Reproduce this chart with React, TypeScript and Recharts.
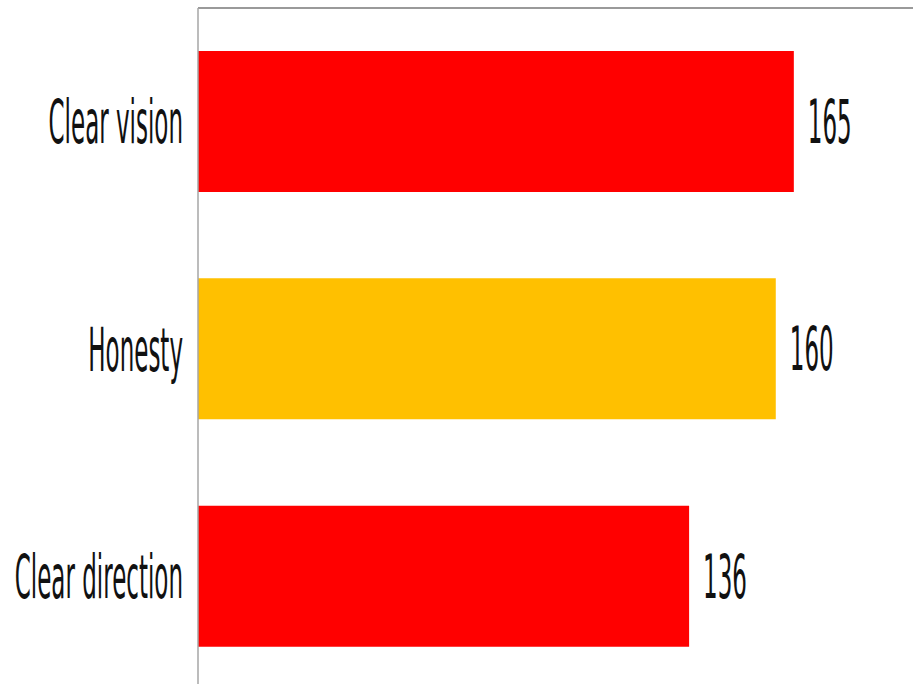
import { Bar, BarChart, Cell, LabelList, XAxis, YAxis } from "recharts";

const categories = ["Clear vision", "Honesty", "Clear direction"];
const values = [165, 160, 136];
const colors = ["#ff0000", "#ffc000", "#ff0000"];

const data = categories.map((name, i) => ({ name, value: values[i] }));

const FONT = "'DejaVu Sans', Verdana, sans-serif";
const STRETCH = 2.6;

const StretchedText = ({ x, y, text, anchor }: { x: number; y: number; text: string; anchor: "start" | "end" }) => (
  <g transform={`translate(${x},${y}) scale(1,${STRETCH})`}>
    <text
      x={0}
      y={0}
      dy="0.36em"
      textAnchor={anchor}
      fontFamily={FONT}
      fontSize={23}
      fill="#111"
    >
      {text}
    </text>
  </g>
);

const CategoryTick = (props: any) => {
  const { x, y, payload } = props;
  return <StretchedText x={x} y={y} text={payload.value} anchor="end" />;
};

const ValueLabel = (props: any) => {
  const { x, y, width, height, value } = props;
  return <StretchedText x={x + width + 14} y={y + height / 2} text={String(value)} anchor="start" />;
};

export default function App() {
  return (
    <div style={{ position: "fixed", left: 0, top: 0, width: 913, height: 684, overflow: "hidden", background: "#fff" }}>
      <BarChart
        width={913}
        height={690}
        data={data}
        layout="vertical"
        margin={{ top: 0, right: 0, bottom: 0, left: 0 }}
      >
        <XAxis
          type="number"
          orientation="top"
          domain={[0, 198]}
          height={8}
          tick={false}
          tickLine={false}
          axisLine={{ stroke: "#9a9a9a", strokeWidth: 2 }}
        />
        <YAxis
          type="category"
          dataKey="name"
          width={198}
          tickLine={false}
          tickSize={0}
          tickMargin={15}
          axisLine={{ stroke: "#a6a6a6", strokeWidth: 1.5 }}
          tick={<CategoryTick />}
        />
        <Bar dataKey="value" barSize={141} isAnimationActive={false}>
          {data.map((d, i) => (
            <Cell key={d.name} fill={colors[i]} />
          ))}
          <LabelList dataKey="value" content={<ValueLabel />} />
        </Bar>
      </BarChart>
    </div>
  );
}
